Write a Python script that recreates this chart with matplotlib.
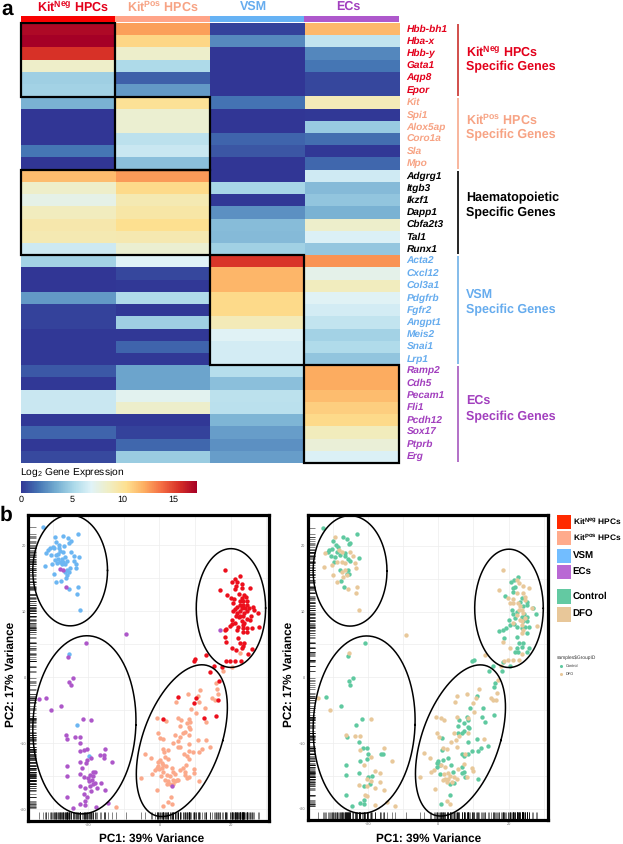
import matplotlib
matplotlib.use("Agg")
import matplotlib.pyplot as plt
from matplotlib.colors import LinearSegmentedColormap
from matplotlib.patches import Rectangle
import numpy as np

W, H = 623, 844

plt.rcParams['font.family'] = ['Liberation Sans', 'DejaVu Sans']
plt.rcParams['mathtext.fontset'] = 'custom'
plt.rcParams['mathtext.rm'] = 'Liberation Sans'
plt.rcParams['mathtext.bf'] = 'Liberation Sans:bold'
plt.rcParams['mathtext.default'] = 'regular'
plt.rcParams['text.hinting'] = 'no_hinting'

# heatmap data, one list per cell type
genes = ['Hbb-bh1', 'Hba-x', 'Hbb-y', 'Gata1', 'Aqp8', 'Epor',
         'Kit', 'Spi1', 'Alox5ap', 'Coro1a', 'Sla', 'Mpo',
         'Adgrg1', 'Itgb3', 'Ikzf1', 'Dapp1', 'Cbfa2t3', 'Tal1', 'Runx1',
         'Acta2', 'Cxcl12', 'Col3a1', 'Pdgfrb', 'Fgfr2', 'Angpt1', 'Meis2', 'Snai1', 'Lrp1',
         'Ramp2', 'Cdh5', 'Pecam1', 'Fli1', 'Pcdh12', 'Sox17', 'Ptprb', 'Erg']
expr_neg = [16.9, 17.3, 15.5, 8.5, 4.8, 5.0,
            3.7, 0.0, 0.0, 0.0, 1.8, 0.0,
            11.6, 8.5, 7.5, 8.8, 9.4, 9.2, 6.3,
            5.0, 0.0, 0.0, 2.9, 0.4, 0.4, 0.1, 0.1, 0.1,
            1.0, 0.1, 6.2, 6.2, 0.1, 1.3, 0.1, 0.6]
expr_pos = [12.5, 10.7, 8.4, 5.3, 1.2, 2.9,
            10.2, 8.2, 8.2, 5.8, 6.2, 4.2,
            12.6, 10.6, 9.2, 9.6, 10.4, 9.3, 8.2,
            6.9, 0.5, 0.1, 5.4, 0.1, 4.8, 0.1, 1.3, 0.1,
            3.2, 3.2, 7.2, 8.4, 0.1, 0.4, 1.4, 4.7]
expr_vsm = [0.4, 2.4, 0.0, 0.0, 0.0, 0.0,
            1.7, 0.0, 0.0, 1.3, 0.9, 0.0,
            0.0, 5.1, 0.1, 2.6, 4.1, 4.0, 4.9,
            15.4, 11.8, 11.8, 10.6, 10.6, 9.0, 7.0, 6.5, 6.5,
            5.6, 4.2, 5.8, 5.7, 3.8, 3.0, 2.6, 3.0]
expr_ecs = [11.7, 6.0, 2.3, 1.8, 0.5, 0.5,
            9.0, 0.1, 4.6, 1.6, 0.1, 1.4,
            6.4, 4.0, 4.4, 3.7, 8.4, 6.8, 4.5,
            12.8, 7.4, 8.8, 7.0, 6.5, 6.0, 5.0, 5.4, 4.4,
            12.1, 12.1, 11.6, 11.0, 10.6, 8.9, 8.0, 6.8]

# groups of genes: label, first row, row count, colour, column span of the box
group_names = ['Kit$\\mathbf{^{Neg}}$ HPCs', 'Kit$\\mathbf{^{Pos}}$ HPCs', 'Haematopoietic', 'VSM', 'ECs']
group_rows = [6, 6, 7, 9, 8]
group_cols = [(0, 1), (1, 1), (0, 2), (2, 1), (3, 1)]
group_colors = ['#E3001B', '#F7A384', '#000000', '#66ACEE', '#A23FBE']
bar_colors = ['#C9302C', '#F7A98C', '#000000', '#6FB0E6', '#A557BE']

col_names = ['Kit$\\mathbf{^{Neg}}$ HPCs', 'Kit$\\mathbf{^{Pos}}$ HPCs', 'VSM', 'ECs']
col_colors = ['#E3001B', '#F7A384', '#66ACEE', '#A23FBE']
strip_colors = ['#F80000', '#FFA488', '#66B2F4', '#AE58CC']

# PCA, left panel by cell type
neg_x = [18.4, 22.6, 21.3, 20.5, 21.9, 23.1, 21.6, 23.3, 17.1, 25.5, 21.3, 22.5, 18.9, 23.8, 20.1, 21.1, 23.1, 24.4,
         20.8, 22.7, 23.6, 24.7, 21.3, 22.7, 23.6, 24.6, 21.7, 23.1, 24.1, 25.3, 26.4, 26.6, 20.8, 21.7, 22.7, 23.8,
         24.7, 27.7, 21.6, 22.7, 23.6, 25.7, 22.5, 24.7, 20.3, 21.3, 23.3, 23.8, 25.5, 20.3, 19.7, 22.2, 23.6, 26.0,
         24.7, 28.0, 18.7, 21.7, 23.4, 18.3, 23.4, 24.7, 18.5, 22.2, 18.7, 22.7, 23.9, 23.6, 20.3, 21.6, 26.0, 25.0,
         23.1, 10.0, 9.6, 13.1, 15.4, 17.7, 18.7, 19.7, 21.3, 22.9, 14.3, 16.8, 16.6, 5.2, 10.4, 9.8, 12.6, 15.8, 1.0]
neg_y = [16.3, 15.4, 14.9, 14.5, 14.4, 14.2, 13.9, 13.6, 13.3, 13.5, 13.4, 12.7, 12.5, 12.5, 12.0, 11.8, 12.0, 12.1,
         11.2, 11.5, 11.6, 11.6, 10.3, 11.0, 11.0, 11.0, 10.7, 10.5, 10.5, 10.5, 10.6, 10.2, 10.0, 9.8, 10.0, 9.8,
         10.0, 9.7, 9.3, 9.3, 9.3, 9.3, 9.1, 8.8, 8.7, 8.3, 8.5, 8.3, 8.7, 8.1, 7.8, 7.7, 7.9, 7.5,
         7.4, 7.7, 7.3, 7.2, 7.4, 7.1, 6.8, 6.8, 6.1, 5.9, 5.4, 5.2, 5.2, 4.8, 4.4, 4.2, 4.3, 3.6,
         4.4, 2.8, 2.5, 3.4, 1.7, 1.6, 2.4, 2.5, 2.5, 2.5, 0.8, -0.6, -3.4, -3.0, -3.1, -3.9, -6.1, -5.9, -6.3]

pos_x = [18.0, 15.8, 16.1, 16.5, 8.0, 11.5, 4.7, 10.8, 14.7, 15.5, 8.9, 10.2, 12.8, 11.0, -0.7, 1.8, 5.3, 6.1, 8.3,
         7.7, 8.5, 5.8, 13.1, 8.2, 8.7, -0.3, 0.2, 1.1, 4.5, 7.2, 6.6, 5.8, 5.2, 8.2, 8.4, 10.8, 13.0, 3.7, 5.2, 5.7,
         1.1, 2.5, 12.1, 14.2, 11.0, 1.2, 6.8, 7.7, 8.3, 9.5, -4.0, -2.4, 8.2, 1.6, 2.5, 0.2, -0.3, 0.7, -0.5, 1.1,
         -0.7, 0.0, 0.8, 1.8, 7.4, 6.7, 5.8, 3.5, 3.9, 9.7, -2.2, -1.2, 1.1, 4.4, 7.2, 9.7, 0.3, 2.2, 3.0, 7.2, 8.3,
         7.7, -5.1, 1.6, 4.9, 3.7, 2.5, 4.4, 5.3, 2.1, 3.0, 3.9, 11.2, -0.8, 3.3, 2.5, 1.0, 3.5, -12.2, 22.7, 20.5]
pos_y = [0.9, -0.8, -1.7, -2.5, -2.6, -1.9, -3.8, -2.9, -3.2, -3.5, -4.8, -5.4, -4.6, -3.7, -6.1, -6.6, -6.1, -6.5, -6.3,
         -6.9, -6.7, -7.4, -6.8, -7.6, -7.8, -8.5, -9.2, -9.4, -8.7, -8.3, -8.5, -9.0, -9.6, -8.7, -10.1, -9.5, -9.5, -10.0, -10.6, -10.6,
         -10.8, -11.0, -10.8, -10.6, -11.3, -11.3, -11.6, -11.9, -11.1, -11.3, -11.6, -12.3, -12.4, -12.1, -12.4, -12.5, -12.9, -13.0, -13.4, -13.3,
         -13.8, -13.9, -13.8, -13.5, -13.3, -13.8, -14.0, -13.8, -14.3, -13.9, -14.6, -14.1, -14.3, -14.6, -14.3, -14.5, -14.9, -14.8, -15.0, -14.8, -15.1,
         -15.3, -15.3, -15.5, -15.5, -15.5, -15.7, -15.7, -15.6, -16.1, -16.1, -16.1, -15.7, -17.1, -18.1, -18.9, -19.5, -19.2, -19.7, 3.7, 1.6]

vsm_x = [-32.7, -23.0, -29.3, -27.1, -25.7, -24.9, -25.3, -29.1, -28.3, -26.7, -30.0, -29.6, -30.7, -31.2, -32.0, -28.1,
         -27.9, -27.2, -24.9, -30.6, -29.1, -28.4, -24.1, -22.5, -29.3, -28.4, -27.5, -26.5, -23.9, -27.9, -27.0, -26.1,
         -28.9, -30.3, -27.5, -26.5, -23.5, -32.2, -25.1, -23.4, -25.9, -25.3, -26.5, -29.7, -25.9, -26.2, -29.0, -27.6,
         -25.5, -23.0, -23.3, -22.4, -23.2, -25.4, -19.7]
vsm_y = [22.8, 21.7, 21.3, 21.4, 21.1, 20.6, 20.3, 20.5, 20.0, 19.9, 19.7, 19.6, 19.6, 19.3, 18.9, 19.6,
         19.1, 19.0, 19.0, 18.5, 18.5, 18.7, 18.4, 18.2, 17.8, 17.9, 18.0, 18.2, 17.6, 17.5, 17.5, 17.6,
         17.4, 17.1, 17.2, 17.1, 17.1, 16.8, 16.5, 16.6, 16.3, 15.9, 15.9, 15.6, 15.5, 15.1, 14.5, 14.6,
         13.4, 13.7, 12.7, 10.2, -7.2, 3.6, -11.9]

ecs_x = [-27.9, -27.2, -26.2, 16.9, 3.4, -33.8, -32.0, -30.6, -27.6, -25.6, -20.7, -9.3, -24.2, -25.4, -24.9,
         -21.6, -19.2, -26.2, -26.1, -23.6, -22.3, -22.4, -15.3, -20.3, -21.2, -22.2, -15.7, -16.6, -15.7, -19.2,
         -20.3, -22.2, -20.7, -13.2, -26.1, -21.7, -26.1, -22.3, -21.2, -18.0, -18.8, -19.5, -20.0, -18.6, -19.7,
         -18.9, -18.1, -16.5, -22.3, -20.9, -18.6, -19.5, -17.6, -19.2, -15.3, -21.1, -20.3, -26.1, -22.3, -21.0,
         -20.9, -17.9, -14.5, -24.3]
ecs_y = [16.4, 16.3, 13.7, 7.1, -16.4, -3.3, -3.1, -5.0, -4.4, 3.1, 5.2, 6.5, -0.1, -0.7, -1.2,
         -6.3, -6.4, -8.8, -9.3, -9.1, -9.1, -10.0, -10.8, -10.8, -11.0, -11.2, -11.7, -11.8, -12.3, -12.3,
         -12.5, -12.8, -13.0, -12.8, -13.5, -13.7, -14.9, -14.7, -15.1, -14.3, -14.4, -14.8, -15.2, -15.0, -15.7,
         -15.6, -16.0, -16.0, -16.5, -16.7, -16.1, -16.5, -16.8, -17.2, -17.1, -17.7, -18.2, -18.1, -19.2, -18.8,
         -19.4, -19.6, -19.1, -19.8]

# PCA, right panel by treatment
control_x = [-32.9, -27.2, -25.9, -23.2, -25.0, -25.3, -29.9, -31.0, -30.3, -29.1, -28.4, -30.6, -29.4, -29.6, -28.0, -26.5,
             -25.6, -25.1, -22.6, -28.0, -25.6, -25.3, -25.9, -27.8, -26.8, -26.5, -31.3, -28.9,
             22.7, 21.6, 20.6, 21.1, 21.8, 19.0, 21.3, 23.7, 23.2, 25.1, 24.2, 25.3, 20.9, 21.3, 22.3, 26.8, 27.8, 24.5,
             25.3, 21.8, 23.7, 24.2, 25.3, 20.2, 21.5, 20.4, 19.2, 18.5, 17.3, 22.3, 24.6, 25.9, 23.7, 25.1, 18.6, 22.3,
             22.9, 24.2, 22.3, 23.7, 25.9, 25.1, 21.8, 22.7, 10.1, 9.7, 15.5, 18.0, 20.4, 18.5,
             14.4, 16.1, 15.9, 10.9, 9.1, 12.8, 12.5, 13.3, 15.9, 8.1, 5.9, 8.5, 7.4, 5.7, 8.3, 8.7, 7.4, 6.6, 5.7, 1.1,
             10.9, 8.3, 14.2, 12.1, 9.5, 11.2, 6.8, 8.3, 7.4, 1.1, 2.7, 1.4, 0.0, -0.5, 0.5, -0.5, 3.6, 6.8, 4.3, 7.2,
             0.5, 6.8, 7.6, 11.4, 3.3, 4.5, 3.3, 0.9,
             -20.9, -25.7, -25.5, -25.0, -24.3, -32.0, -27.8, -23.3, -21.7, -26.1, -22.5, -20.4, -21.3, -19.9, -16.4,
             -15.8, -22.3, -20.4, -26.3, -26.3, -22.5, -19.9, -18.8, -19.4, -21.1, -26.3, -22.3, -21.0, -21.0, -24.5]
control_y = [22.7, 21.4, 21.1, 21.8, 20.5, 20.3, 20.7, 19.4, 19.5, 20.2, 19.9, 18.4, 18.3, 17.6, 18.6, 18.9,
             18.0, 17.7, 18.2, 16.3, 16.4, 15.8, 15.7, 14.6, 13.7, 18.5, 19.1, 19.1,
             15.3, 14.8, 14.5, 13.6, 13.8, 12.4, 13.0, 12.0, 11.5, 11.5, 10.8, 11.0, 10.3, 9.7, 10.0, 10.5, 9.7, 9.7,
             9.2, 9.1, 9.2, 8.6, 8.5, 8.7, 8.1, 7.9, 7.5, 7.2, 7.1, 7.6, 7.7, 7.6, 7.5, 6.8, 6.0, 6.1,
             5.2, 5.2, 4.4, 4.6, 4.4, 3.8, 3.8, 3.8, 2.6, 2.5, 1.8, 0.9, 1.8, 2.4,
             0.9, -0.8, -1.5, -2.8, -4.6, -4.6, -6.0, -6.8, -5.8, -6.1, -6.5, -6.5, -6.9, -7.4, -7.5, -7.7, -8.1, -8.4, -8.5, -9.2,
             -9.4, -9.9, -10.5, -10.7, -11.2, -11.2, -11.6, -11.6, -12.0, -11.1, -12.3, -12.5, -12.7, -13.1, -13.4, -13.7, -13.4, -13.6, -14.4, -14.4,
             -14.7, -14.6, -15.2, -15.5, -16.2, -16.0, -17.9, -19.3,
             5.2, 3.2, -0.6, -1.1, -0.1, -3.0, -4.4, -7.2, -6.3, -9.1, -9.9, -10.7, -10.8, -11.7, -11.7,
             -11.7, -12.8, -12.4, -13.4, -14.8, -14.6, -15.1, -15.0, -16.2, -16.5, -17.9, -19.1, -18.7, -19.2, -19.6]
dfo_x = [-29.4, -28.2, -27.5, -25.1, -24.2, -32.2, -30.3, -32.4, -28.9, -27.5, -26.5, -23.7, -23.5, -29.9, -27.0, -26.1,
         -28.9, -25.6, -23.1, -23.4, -22.6, -26.5, -27.5,
         18.4, 22.3, 23.0, 24.2, 17.3, 25.7, 22.3, 24.0, 24.6, 19.9, 21.1, 20.4, 21.1, 22.7, 23.2, 24.6, 26.5, 23.0,
         23.7, 24.0, 22.3, 23.2, 24.6, 23.7, 21.3, 23.7, 28.2, 24.0, 23.7, 18.5, 20.4, 23.7, 18.7, 19.9, 21.3, 22.9,
         13.3, 17.7, -9.3,
         16.9, 11.6, 8.1, 5.2, 10.6, 9.9, 4.7, 15.0, 15.6, 16.6, 16.4, 10.2, -0.8, 0.9, 1.7, 5.4, 8.3, -0.3, 0.3, 4.5,
         5.9, 4.9, 8.5, 3.6, 5.2, 13.1, 1.4, 2.4, -4.0, -2.5, 7.6, 7.4, 0.9, 1.9, 9.7, -2.1, -1.1, 10.0, 5.7, 1.7,
         2.8, 3.3, 1.9, 2.8, 4.5, 5.2, 8.2, -5.1, 2.4, 1.4, 3.8, -0.9, 2.4, 3.3,
         -25.4, -34.1, -30.8, -19.2, -26.3, -23.7, -22.3, -22.3, -19.1, -15.4, -21.1, -18.0, -16.6, -20.4, -19.2,
         -16.6, -22.5, -20.2, -18.0, -15.4, -20.9, -20.4, -18.0, -14.7, -12.2, -13.3]
dfo_y = [21.3, 19.4, 19.0, 19.0, 18.4, 18.9, 17.1, 16.8, 17.6, 17.6, 17.4, 17.4, 16.6, 15.6, 15.3, 15.6,
         14.5, 13.5, 13.7, 12.8, 10.3, 16.3, 16.1,
         16.3, 14.8, 14.4, 13.9, 13.3, 13.6, 12.8, 12.8, 12.3, 12.0, 11.9, 11.3, 11.3, 11.3, 10.8, 11.8, 10.5, 10.3,
         10.3, 9.8, 9.5, 8.8, 9.0, 8.5, 8.2, 8.0, 7.8, 7.2, 6.7, 5.4, 4.5, 3.5, 2.5, 2.6, 2.6, 2.6,
         3.4, 1.8, 6.5,
         -0.4, -1.8, -2.6, -2.9, -3.2, -3.9, -3.8, -3.2, -3.5, -2.4, -3.5, -5.3, -6.0, -6.2, -6.5, -6.0, -6.2, -8.4, -9.0, -8.5,
         -8.9, -9.5, -8.5, -9.8, -10.6, -9.4, -10.7, -10.9, -11.5, -12.2, -11.7, -13.2, -13.4, -13.6, -13.8, -14.4, -14.1, -14.3, -14.0, -14.7,
         -14.6, -15.0, -15.4, -15.4, -15.2, -15.4, -15.1, -15.1, -15.9, -15.6, -15.9, -17.0, -18.8, -19.3,
         3.7, -3.2, -4.9, -6.3, -8.8, -8.9, -8.9, -11.1, -12.1, -10.7, -13.4, -14.2, -14.6, -15.5, -15.7,
         -15.9, -16.4, -16.6, -16.8, -17.1, -17.9, -18.1, -19.4, -18.9, -19.5, -12.7]

# ellipses around the clusters: centre x, centre y, half width, half height, tilt
ell_cx = [-25.1, 20.1, -21.1, 6.3]
ell_cy = [16.2, 10.5, -7.2, -9.6]
ell_ax = [10.5, 9.75, 14.5, 12.8]
ell_ay = [8.4, 9.0, 13.5, 11.5]
ell_rho = [0.0, 0.0, 0.05, 0.44]

xticks = [-20, 0, 20]
yticks = [-20, -10, 0, 10, 20]

legend_names = ['Kit$\\mathbf{^{Neg}}$ HPCs', 'Kit$\\mathbf{^{Pos}}$ HPCs', 'VSM', 'ECs', 'Control', 'DFO']
legend_colors = ['#FF2A00', '#FFAB8C', '#72BDFF', '#B968D4', '#63C9A2', '#E8C799']
legend_sizes = [6.0, 6.0, 7.0, 7.0, 7.0, 7.0]

NEG, POS, VSM, ECS = '#EC0F1C', '#FBA98B', '#6CB6F2', '#AD57C9'
CONTROL, DFO = '#5FC9A0', '#E8C89A'

cmap = LinearSegmentedColormap.from_list('expr', ['#313695', '#4575B4', '#74ADD1', '#ABD9E9', '#E0F3F8', '#F0EEC4',
                                                  '#FEE090', '#FDAE61', '#F46D43', '#D73027', '#A50026'])


def px_axes(fig, x0, y0, x1, y1):
    # axes placed by pixel position, y measured from the top
    return fig.add_axes([x0 / W, 1 - y1 / H, (x1 - x0) / W, (y1 - y0) / H])


def pca_panel(ax, xlim, ylim, series):
    ax.set_xlim(xlim)
    ax.set_ylim(ylim)
    ax.set_xticks(xticks)
    ax.set_yticks(yticks)
    ax.set_xticks([-30, -10, 10, 30], minor=True)
    ax.set_yticks([-15, -5, 5, 15], minor=True)
    ax.grid(True, which='both', color='#EDEDED', lw=0.5)
    ax.set_axisbelow(True)
    ax.tick_params(which='both', length=0, labelsize=2.8, labelcolor='#666666', pad=1.5)
    for s in ax.spines.values():
        s.set_linewidth(2.3)

    all_x = np.concatenate([s[0] for s in series])
    all_y = np.concatenate([s[1] for s in series])
    ax.vlines(all_x, 0.004, 0.027, transform=ax.get_xaxis_transform(), color='black', lw=0.45, alpha=0.75)
    ax.hlines(all_y, 0.004, 0.032, transform=ax.get_yaxis_transform(), color='black', lw=0.45, alpha=0.75)

    for x, y, c in series:
        ax.scatter(x, y, s=10, color=c, linewidths=0, zorder=3)

    t = np.linspace(0, 2 * np.pi, 200)
    for cx, cy, a, b, rho in zip(ell_cx, ell_cy, ell_ax, ell_ay, ell_rho):
        ex = cx + a * (rho * np.sin(t) + np.sqrt(1 - rho ** 2) * np.cos(t))
        ey = cy + b * np.sin(t)
        ax.plot(ex, ey, color='black', lw=1.1, zorder=4, clip_on=False)


fig = plt.figure(figsize=(W / 100, H / 100), dpi=100)

# overlay in pixel coordinates for all the loose text
over = fig.add_axes([0, 0, 1, 1])
over.set_xlim(0, W)
over.set_ylim(H, 0)
over.axis('off')

over.text(1, 9, 'a', fontsize=15, fontweight='bold', va='center')
over.text(0, 515, 'b', fontsize=15, fontweight='bold', va='center')

# heatmap
hm_left, hm_right, hm_top, hm_bottom = 20.7, 399, 23.3, 462.7
data = np.array([expr_neg, expr_pos, expr_vsm, expr_ecs]).T
ax = px_axes(fig, hm_left, hm_top, hm_right, hm_bottom)
im = ax.imshow(data, cmap=cmap, vmin=0, vmax=17.3, aspect='auto', interpolation='nearest')
ax.axis('off')

row = 0
for n, (c0, nc) in zip(group_rows, group_cols):
    ax.add_patch(Rectangle((c0 - 0.5, row - 0.5), nc, n, fill=False, ec='black', lw=1.6, clip_on=False, zorder=3))
    row += n

# column strip and headers
strip = px_axes(fig, hm_left, 16, hm_right, 21.5)
strip.set_xlim(0, 4)
strip.set_ylim(0, 1)
strip.axis('off')
strip.bar(range(4), [1] * 4, width=1, align='edge', color=strip_colors)
header_x = [73, 163, 253, 348]
for name, c, x in zip(col_names, col_colors, header_x):
    over.text(x, 6.5, name, color=c, fontsize=9, fontweight='bold', ha='center', va='center')

# gene labels, group brackets and captions
row_h = (hm_bottom - hm_top) / len(genes)
row = 0
cap_y = [(52, 67), (120, 135), (198, 213), (295, 310), (401, 417)]
for name, n, c, bc, ys in zip(group_names, group_rows, group_colors, bar_colors, cap_y):
    for i in range(row, row + n):
        over.text(406.7, hm_top + (i + 0.5) * row_h, genes[i], color=c, fontsize=7.3, style='italic',
                  fontweight='bold', va='center')
    over.plot([458, 458], [hm_top + row * row_h + 1, hm_top + (row + n) * row_h - 1], color=bc, lw=1.2,
              solid_capstyle='butt')
    over.text(465.7, ys[0], name, color=c, fontsize=9, fontweight='bold', va='center')
    over.text(465.7, ys[1], 'Specific Genes', color=c, fontsize=9, fontweight='bold', va='center')
    row += n

# colour bar
over.text(20, 473, 'Log$_2$ Gene Expression', fontsize=7.4, va='center')
cax = px_axes(fig, 20.7, 481, 197, 493)
cb = fig.colorbar(im, cax=cax, orientation='horizontal')
cb.set_ticks([0, 5, 10, 15])
cb.ax.tick_params(length=0, labelsize=6.5, pad=2)
cb.outline.set_visible(False)

# PCA panels
ax1 = px_axes(fig, 28, 515, 268.5, 820.5)
pca_panel(ax1, (-36.95, 30.66), (-21.7, 24.6),
          [(vsm_x, vsm_y, VSM), (pos_x, pos_y, POS), (neg_x, neg_y, NEG), (ecs_x, ecs_y, ECS)])

ax2 = px_axes(fig, 307.5, 515, 547.5, 820)
pca_panel(ax2, (-37.2, 31.05), (-21.7, 24.7),
          [(control_x, control_y, CONTROL), (dfo_x, dfo_y, DFO)])

for cx in (152, 429):
    over.text(cx, 838.5, 'PC1: 39% Variance', fontsize=8.5, fontweight='bold', ha='center', va='center')
for cx in (11, 289):
    over.text(cx, 674, 'PC2: 17% Variance', fontsize=8.5, fontweight='bold', ha='center', va='center', rotation=90)

# hand made legend on the right
leg_y = [521.7, 537.7, 556.3, 572.3, 596.7, 614.7]
leg_h = [14, 14, 14, 14, 15, 15]
for name, c, y, h, fs in zip(legend_names, legend_colors, leg_y, leg_h, legend_sizes):
    over.add_patch(Rectangle((556.5, y - h / 2), 14, h, color=c, lw=0))
    over.text(572.7, y, name, fontsize=fs, fontweight='bold', va='center')

over.text(556.7, 658, 'samples$GroupID', fontsize=3.5, color='#333333', va='center', parse_math=False)
over.scatter([560.7], [665.7], s=5, color=CONTROL, linewidths=0)
over.scatter([560.7], [674.3], s=5, color=DFO, linewidths=0)
over.text(566, 665.7, 'Control', fontsize=2.8, color='#333333', va='center')
over.text(566, 674.3, 'DFO', fontsize=2.8, color='#333333', va='center')
over.set_xlim(0, W)
over.set_ylim(H, 0)

fig.savefig('out.png', dpi=100)
